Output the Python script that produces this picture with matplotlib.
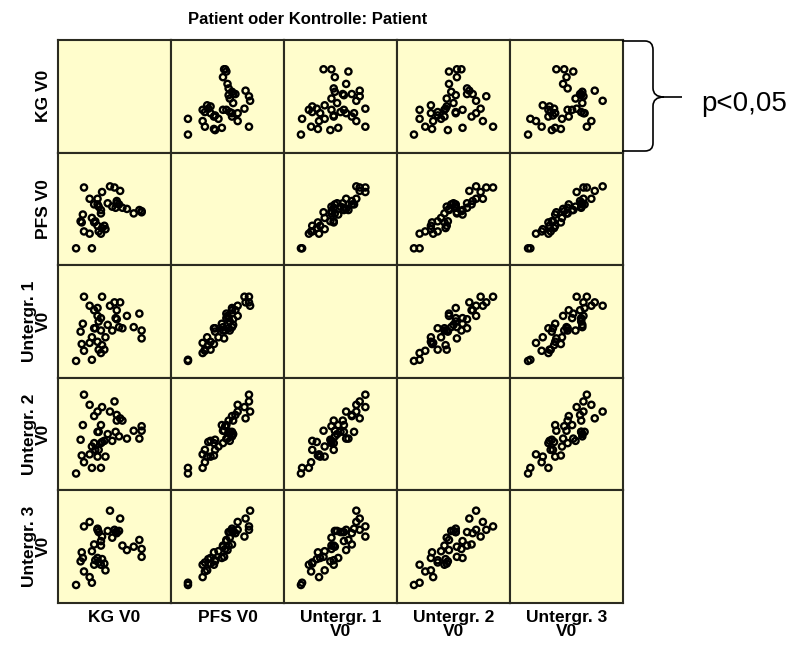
import matplotlib
matplotlib.use('Agg')
import matplotlib.pyplot as plt
from matplotlib.path import Path
from matplotlib.patches import PathPatch

plt.rcParams['font.family'] = ['Liberation Sans', 'DejaVu Sans']

# Variables and values (arbitrary units 0-100)
labels = ['KG V0', 'PFS V0', 'Untergr. 1\nV0', 'Untergr. 2\nV0', 'Untergr. 3\nV0']
title = 'Patient oder Kontrolle: Patient'
note = 'p<0,05'

kg = [23, 46, 50, 55, 39, 28, 35, 44, 52, 54, 32, 36, 38, 48, 51, 57, 61, 67, 72, 74,
      38, 22, 30, 20, 21, 32, 35, 41, 42, 36, 23, 28, 38, 16, 30, 35, 39, 33, 52, 74]
pfs = [69, 70, 69, 66, 65, 59, 59, 55, 57, 54, 54, 52, 49, 52, 51, 51, 50, 46, 49, 47,
       46, 45, 42, 39, 38, 38, 35, 35, 32, 30, 30, 28, 28, 15, 15, 54, 33, 39, 55, 48]
u1 = [72, 64, 67, 67, 72, 64, 55, 47, 60, 45, 60, 50, 53, 42, 53, 44, 55, 45, 57, 35,
      42, 48, 36, 41, 30, 44, 32, 25, 36, 25, 24, 31, 22, 15, 16, 62, 29, 44, 52, 42]
u2 = [85, 70, 79, 64, 74, 76, 70, 50, 67, 48, 66, 52, 58, 44, 52, 62, 46, 53, 46, 53,
      42, 58, 39, 45, 31, 42, 30, 44, 30, 36, 25, 32, 20, 15, 20, 52, 43, 36, 62, 57]
u3 = [68, 82, 65, 75, 59, 72, 65, 64, 62, 64, 52, 63, 55, 58, 63, 51, 47, 50, 56, 41,
      51, 40, 46, 37, 45, 34, 40, 35, 29, 36, 28, 23, 34, 16, 18, 66, 39, 38, 63, 48]

data = [kg, pfs, u1, u2, u3]
n = len(data)

W, H = 796, 646
fig = plt.figure(figsize=(W / 100, H / 100), dpi=100)

left, right, top, bottom = 58, 623, 40, 603
cw = (right - left) / n
ch = (bottom - top) / n

for i in range(n):
    for j in range(n):
        x0 = left + j * cw
        y0 = top + (i + 1) * ch
        ax = fig.add_axes([x0 / W, 1 - y0 / H, cw / W, ch / H])
        ax.set_facecolor('#FFFDCC')
        ax.set_xlim(0, 100)
        ax.set_ylim(0, 100)
        ax.set_xticks([])
        ax.set_yticks([])
        for sp in ax.spines.values():
            sp.set_color('#2b2b20')
            sp.set_linewidth(1.5)
        if i != j:
            ax.scatter(data[j], data[i], s=20, facecolors='none',
                       edgecolors='black', linewidths=1.7)
        if j == 0:
            ax.set_ylabel(labels[i], fontsize=12.5, fontweight='bold',
                          linespacing=0.9, labelpad=5)
        if i == n - 1:
            ax.set_xlabel(labels[j], fontsize=12.5, fontweight='bold',
                          linespacing=0.9, labelpad=5)

fig.text(308 / W, 1 - 19 / H, title, ha='center', va='center',
         fontsize=12, fontweight='bold')

# curly brace next to the first row
def fp(x, y):
    return (x / W, 1 - y / H)

verts = [fp(622, 41), fp(645, 41), fp(653, 41), fp(653, 50), fp(653, 88),
         fp(653, 97), fp(664, 97), fp(653, 97), fp(653, 106), fp(653, 143),
         fp(653, 151), fp(645, 151), fp(622, 151)]
codes = [Path.MOVETO, Path.LINETO, Path.CURVE3, Path.CURVE3, Path.LINETO,
         Path.CURVE3, Path.CURVE3, Path.CURVE3, Path.CURVE3, Path.LINETO,
         Path.CURVE3, Path.CURVE3, Path.LINETO]
brace = PathPatch(Path(verts, codes), transform=fig.transFigure,
                  fill=False, edgecolor='black', linewidth=1.2)
fig.patches.append(brace)
tick = Path([fp(664, 97), fp(682, 97)])
fig.patches.append(PathPatch(tick, transform=fig.transFigure, fill=False,
                             edgecolor='black', linewidth=1.2))

fig.text(701 / W, 1 - 104 / H, note, ha='left', va='center', fontsize=20)

fig.savefig('out.png', dpi=100)
